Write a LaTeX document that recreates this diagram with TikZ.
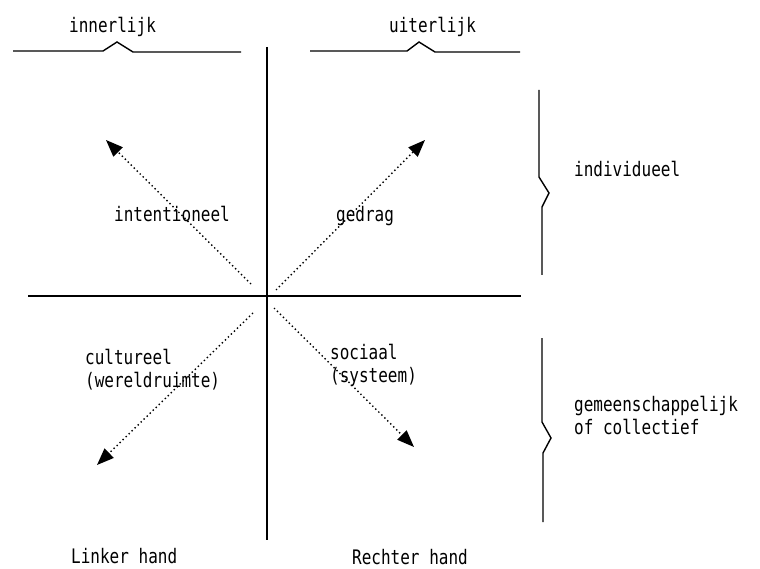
\documentclass[tikz,border=0pt]{standalone}
\usepackage{fontspec}
\newfontfamily\pixfont[FakeStretch=0.8]{DejaVu Sans Mono}
\usetikzlibrary{arrows.meta}
\begin{document}
\begin{tikzpicture}[x=1pt,y=-1pt,
  lbl/.style={font=\pixfont\fontsize{20}{23}\selectfont, inner sep=0pt, anchor=base west, align=left},
  axisline/.style={line width=1.6pt},
  bracket/.style={line width=1.4pt, line join=miter},
  ray/.style={line width=1.4pt, dash pattern=on 1.4pt off 2.8pt, -{Triangle[length=17pt,width=13pt]}}]
\useasboundingbox (0,0) rectangle (760,569);
% axes
\coordinate (vt) at (267,47);
\coordinate (vb) at (267,540);
\coordinate (hl) at (28,296);
\coordinate (hr) at (521,296);
\draw[axisline] (vt) -- (vb);
\draw[axisline] (hl) -- (hr);
% top braces
\draw[bracket] (13,51) -- (103,51) -- (117,42) -- (133,52) -- (241,52);
\draw[bracket] (310,51) -- (407,51) -- (419,42) -- (435,52) -- (520,52);
% right brackets
\draw[bracket] (539,90) -- (539,177) -- (549,193) -- (542,207) -- (542,275);
\draw[bracket] (542,338) -- (542,422) -- (551,438) -- (543,453) -- (543,522);
% rays
\coordinate (s1) at (251,284); \coordinate (e1) at (106,140);
\coordinate (s2) at (276,290); \coordinate (e2) at (425,140);
\coordinate (s3) at (253,313); \coordinate (e3) at (97,465);
\coordinate (s4) at (274,308); \coordinate (e4) at (414,447);
\draw[ray] (s1) -- (e1);
\draw[ray] (s2) -- (e2);
\draw[ray] (s3) -- (e3);
\draw[ray] (s4) -- (e4);
% labels
\node[lbl] (inner) at (69,33) {innerlijk};
\node[lbl] (uiter) at (389,33) {uiterlijk};
\node[lbl] (indiv) at (574,177) {individueel};
\node[lbl] (gemeen) at (574,434) {gemeenschappelijk\\of collectief};
\node[lbl] (intent) at (114,222) {intentioneel};
\node[lbl] (gedrag) at (336,222) {gedrag};
\node[lbl] (cult) at (85,387) {cultureel\\(wereldruimte)};
\node[lbl] (soc) at (330,382) {sociaal\\(systeem)};
\node[lbl] (linker) at (71,563) {Linker hand};
\node[lbl] (rechter) at (352,564) {Rechter hand};
\end{tikzpicture}
\end{document}
